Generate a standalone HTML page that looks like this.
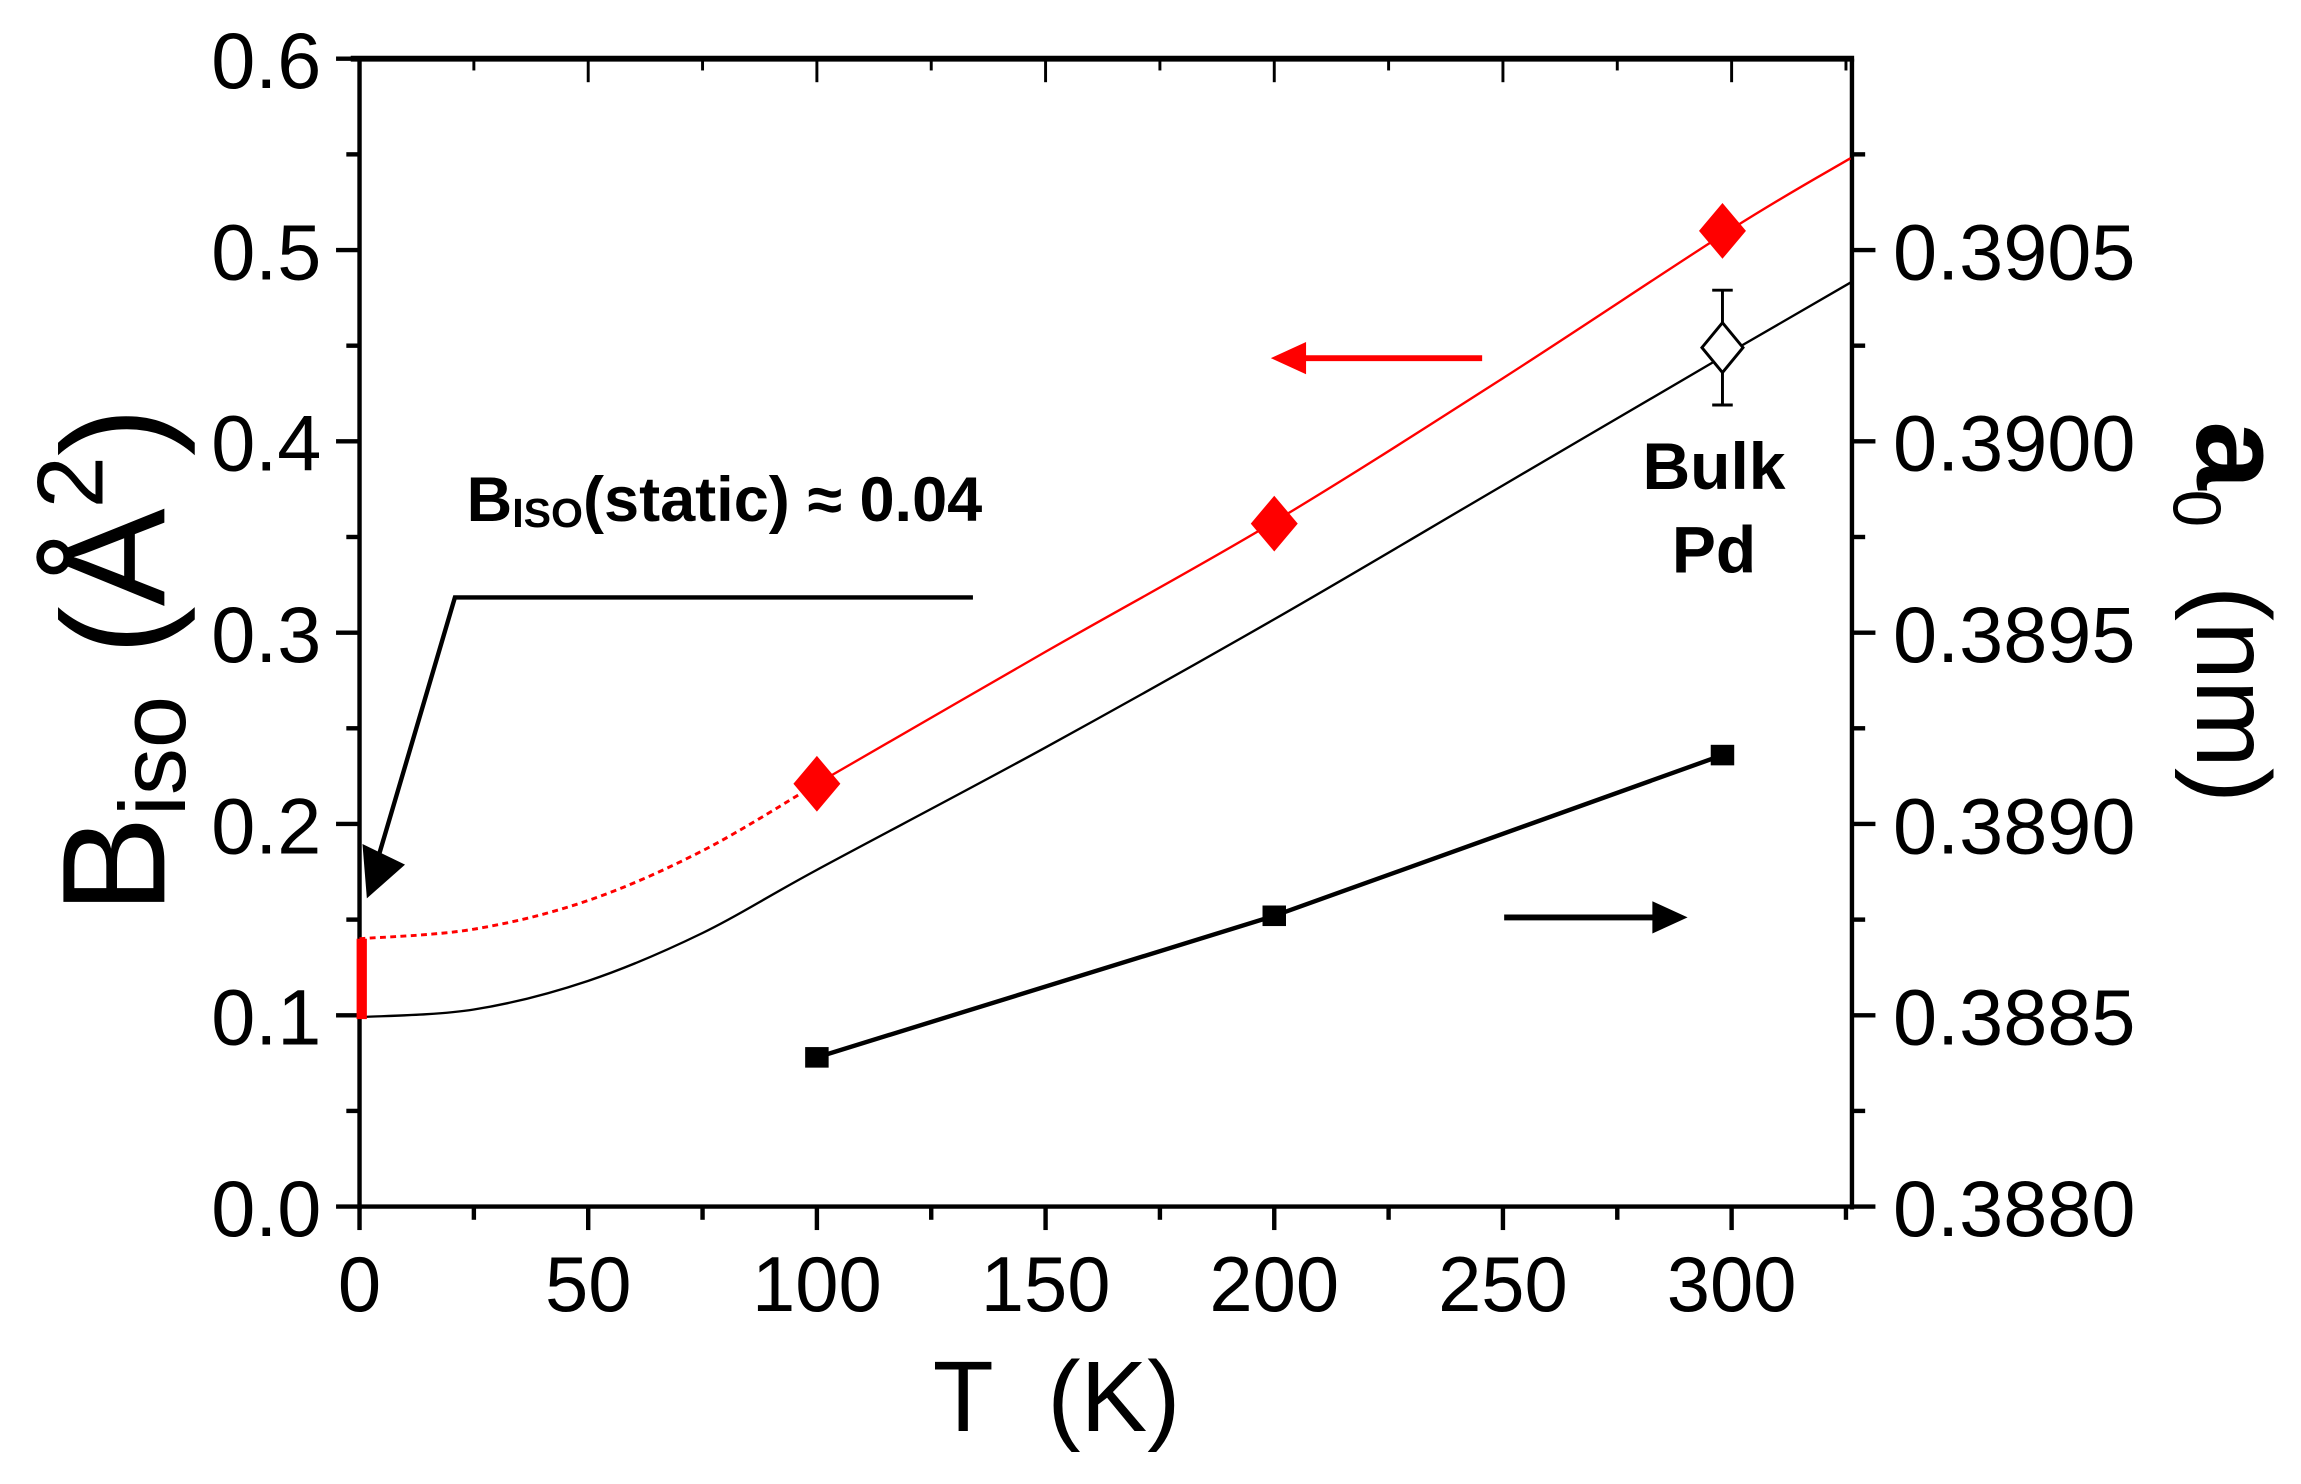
<!DOCTYPE html>
<html><head><meta charset="utf-8"><style>
html,body{margin:0;padding:0;background:#fff;}
svg{display:block;}
text{font-family:"Liberation Sans",Arial,sans-serif;}
</style></head><body>
<svg id="chart" width="2301" height="1484" viewBox="0 0 1568 1011" preserveAspectRatio="none" xmlns="http://www.w3.org/2000/svg">
<g id="axes"></g>
<g id="marks"></g>
<text x="318" y="355" font-size="43" font-weight="bold">B<tspan font-size="28" dy="4">ISO</tspan><tspan dy="-4">(static) ≈ 0.04</tspan></text>
<text x="1168" y="333" font-size="45" font-weight="bold" text-anchor="middle">Bulk</text>
<text x="1168" y="390" font-size="45" font-weight="bold" text-anchor="middle">Pd</text>
<text x="720" y="975" font-size="68" text-anchor="middle" xml:space="preserve">T  (K)</text>
<text transform="translate(112,450) rotate(-90)" font-size="100" text-anchor="middle">B<tspan font-size="64" dy="14">iso</tspan><tspan dy="-14"> (Å</tspan><tspan font-size="64" dy="-42">2</tspan><tspan dy="42">)</tspan></text>
<text transform="translate(1497,417) rotate(90)" font-size="72" text-anchor="middle"><tspan font-weight="bold" font-size="84">a</tspan><tspan font-size="46" dy="16">0</tspan><tspan dy="-16" xml:space="preserve">  (nm)</tspan></text>
</svg>
<script>
const xTicks=[0,50,100,150,200,250,300];
const yTicksLeft=[0.0,0.1,0.2,0.3,0.4,0.5,0.6];
const yTicksRight=[0.3880,0.3885,0.3890,0.3895,0.3900,0.3905];
const redT=[100,200,298];
const redB=[0.221,0.357,0.510];
const sqT=[100,200,298];
const sqA=[0.38839,0.38876,0.38918];
const fitT=[0,25,50,75,100,150,200,250,300,326];
const redFit=[0.140,0.145,0.160,0.186,0.221,0.290,0.358,0.433,0.511,0.548];
const blackFit=[0.099,0.103,0.118,0.143,0.176,0.240,0.307,0.377,0.447,0.483];
const bulkT=[298];
const bulkB=[0.449];
const bulkErr=[0.03];

const X0=245,XPX=(1180-245)/300,YB=822,YPX=(822-40)/0.6,YT=40;
const sx=t=>X0+t*XPX;
const sy=b=>YB-b*YPX;
const sa=a=>YB-(a-0.3880)/0.0005*(YPX*0.1);
const NS='http://www.w3.org/2000/svg';
function mk(parent,tag,attrs){const e=document.createElementNS(NS,tag);for(const k in attrs)e.setAttribute(k,attrs[k]);parent.appendChild(e);return e;}
const ax=document.getElementById('axes'),mkG=document.getElementById('marks');
const XR=1262;
let e;
e=mk(ax,'line',{x1:X0,y1:YT,x2:X0,y2:YB+2,stroke:'#000','stroke-width':3});

e=mk(ax,'line',{x1:X0-1,y1:YB,x2:XR+1,y2:YB,stroke:'#000','stroke-width':3});

e=mk(ax,'line',{x1:X0-6,y1:YT,x2:XR+1.5,y2:YT,stroke:'#000','stroke-width':4});

e=mk(ax,'line',{x1:XR,y1:YT,x2:XR,y2:YB+2,stroke:'#000','stroke-width':3});

for(let t=0;t<=325;t+=25){const maj=t%50===0;
 e=mk(ax,'line',{x1:sx(t),y1:YB,x2:sx(t),y2:YB+(maj?16:9),stroke:'#000','stroke-width':3});
 
 if(t>0){e=mk(ax,'line',{x1:sx(t),y1:YT,x2:sx(t),y2:YT+(maj?16:8),stroke:'#000','stroke-width':2});
 }}
xTicks.forEach(t=>{e=mk(ax,'text',{x:sx(t),y:893,'font-size':53,'text-anchor':'middle'});e.textContent=String(t);
 });
for(let i=0;i<=12;i++){const b=i*0.05,maj=i%2===0;
 e=mk(ax,'line',{x1:X0,y1:sy(b),x2:X0-(maj?16:9),y2:sy(b),stroke:'#000','stroke-width':3});
 }
yTicksLeft.forEach(b=>{e=mk(ax,'text',{x:219,y:sy(b)+20,'font-size':54,'text-anchor':'end'});e.textContent=b.toFixed(1);
 });
for(let i=0;i<=11;i++){const y=YB-i*YPX*0.05,maj=i%2===0;
 e=mk(ax,'line',{x1:XR,y1:y,x2:XR+(maj?16:9),y2:y,stroke:'#000','stroke-width':3});
 }
yTicksRight.forEach(a=>{e=mk(ax,'text',{x:1290,y:sa(a)+20,'font-size':54});e.textContent=a.toFixed(4);
 });

function smooth(ts,vs,from,to){const pts=[];ts.forEach((t,i)=>{if(t>=from&&t<=to)pts.push([sx(t),sy(vs[i])]);});
 let d='M'+pts[0][0]+','+pts[0][1];
 for(let i=0;i<pts.length-1;i++){const p0=pts[i-1]||pts[i],p1=pts[i],p2=pts[i+1],p3=pts[i+2]||p2;
  d+='C'+(p1[0]+(p2[0]-p0[0])/6)+','+(p1[1]+(p2[1]-p0[1])/6)+' '+(p2[0]-(p3[0]-p1[0])/6)+','+(p2[1]-(p3[1]-p1[1])/6)+' '+p2[0]+','+p2[1];}
 return d;}
e=mk(mkG,'path',{d:smooth(fitT,blackFit,0,326),fill:'none',stroke:'#000','stroke-width':1.6});

e=mk(mkG,'path',{d:smooth(fitT,redFit,0,100),fill:'none',stroke:'#f00','stroke-width':2,'stroke-dasharray':'4,3'});

e=mk(mkG,'path',{d:smooth(fitT,redFit,100,326),fill:'none',stroke:'#f00','stroke-width':1.6});

e=mk(mkG,'rect',{x:X0-2,y:sy(0.14),width:7,height:sy(0.098)-sy(0.14),fill:'#f00'});

redT.forEach((t,i)=>{const x=sx(t),y=sy(redB[i]);
 e=mk(mkG,'polygon',{points:`${x},${y-19} ${x+16},${y} ${x},${y+19} ${x-16},${y}`,fill:'#f00'});
 });
e=mk(mkG,'path',{d:sqT.map((t,i)=>(i?'L':'M')+sx(t)+','+sa(sqA[i])).join(''),fill:'none',stroke:'#000','stroke-width':3});

sqT.forEach((t,i)=>{e=mk(mkG,'rect',{x:sx(t)-8,y:sa(sqA[i])-7,width:16,height:14,fill:'#000'});
 });
bulkT.forEach((t,i)=>{const x=sx(t),y=sy(bulkB[i]),y1=sy(bulkB[i]+bulkErr[i]),y2=sy(bulkB[i]-bulkErr[i]);
 e=mk(mkG,'path',{d:`M${x},${y1}L${x},${y2}M${x-7},${y1}L${x+7},${y1}M${x-7},${y2}L${x+7},${y2}`,stroke:'#000','stroke-width':2,fill:'none'});
 
 e=mk(mkG,'polygon',{points:`${x},${y-17} ${x+14},${y} ${x},${y+17} ${x-14},${y}`,fill:'#fff',stroke:'#000','stroke-width':2});
 });
e=mk(mkG,'path',{d:'M1010,244L885,244',stroke:'#f00','stroke-width':4,fill:'none'});

e=mk(mkG,'polygon',{points:'866,244 890,233 890,255',fill:'#f00'});

e=mk(mkG,'path',{d:'M1025,625L1130,625',stroke:'#000','stroke-width':4,fill:'none'});

e=mk(mkG,'polygon',{points:'1150,625 1126,614 1126,636',fill:'#000'});

e=mk(mkG,'path',{d:'M663,407L310,407L256,590',stroke:'#000','stroke-width':3,fill:'none'});

e=mk(mkG,'polygon',{points:'247,575 276,589 250,612',fill:'#000'});

</script>
</body></html>
